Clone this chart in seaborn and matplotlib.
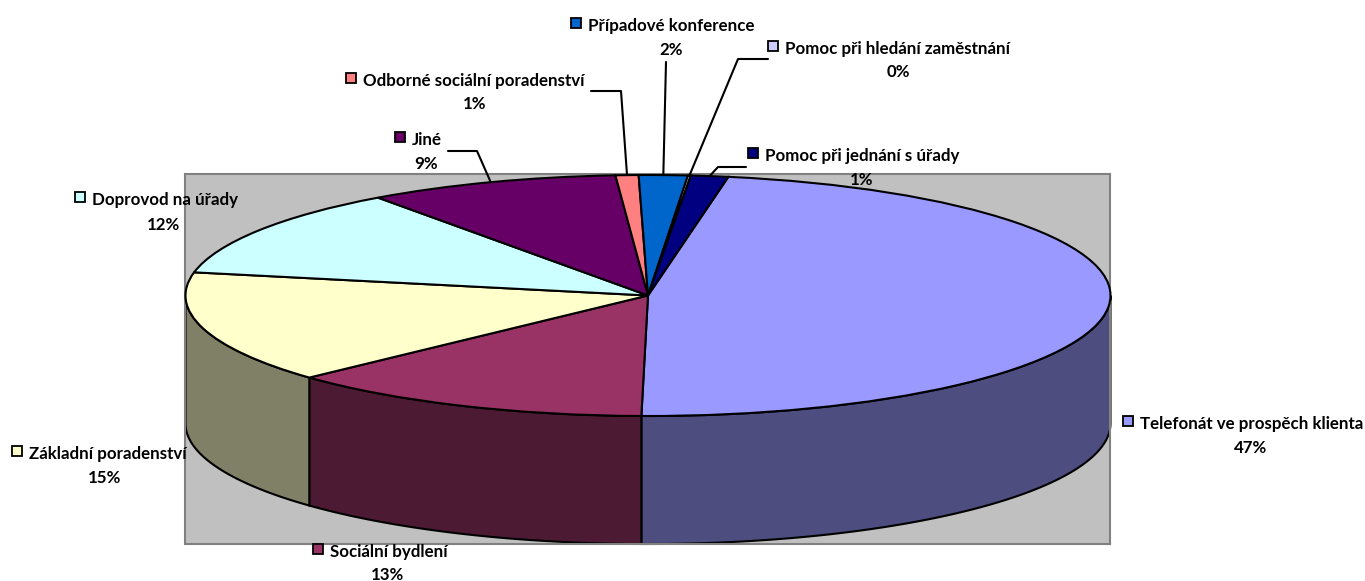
import numpy as np
import matplotlib.pyplot as plt
import seaborn as sb
from matplotlib.colors import to_rgb
from matplotlib.patches import Rectangle

# data, clockwise from the top of the pie
labels = ["Telefonát ve prospěch klienta", "Sociální bydlení", "Základní poradenství",
          "Doprovod na úřady", "Jiné", "Odborné sociální poradenství",
          "Případové konference", "Pomoc při hledání zaměstnání", "Pomoc při jednání s úřady"]
values = [47.45, 12.85, 15.0, 12.0, 8.8, 0.8, 1.7, 0.1, 1.3]
colors = ["#9999FF", "#993366", "#FFFFCC", "#CCFFFF", "#660066",
          "#FF8080", "#0066CC", "#CCCCFF", "#000080"]

W, H = 1365, 581
# plot box and pie shape, in pixels
box_l, box_r, box_t, box_b = 185.5, 1110, 174, 543.5
cx, cy, rx, ry, depth = 648, 295.5, 462.5, 120.5, 128

# label layout in pixels: key left, first line y, percent centre x, percent y
layout = {
    "Telefonát ve prospěch klienta": (1123, 424, 1251, 448),
    "Sociální bydlení": (313, 552, 387, 575),
    "Základní poradenství": (12, 454, 105, 478),
    "Doprovod na úřady": (75, 200, 163, 225),
    "Jiné": (395, 140, 426, 164),
    "Odborné sociální poradenství": (346, 81, 475, 104),
    "Případové konference": (571, 26, 671, 50),
    "Pomoc při hledání zaměstnání": (768, 49, 898, 72),
    "Pomoc při jednání s úřady": (748, 156, 862, 180),
}
# leader elbows, the last point comes from the middle of the slice
leaders = {
    "Jiné": [(448, 151), (477, 151)],
    "Odborné sociální poradenství": [(591, 91), (621, 91)],
    "Případové konference": [(666, 62)],
    "Pomoc při hledání zaměstnání": [(768, 59), (738, 59)],
    "Pomoc při jednání s úřady": [(746, 167), (718, 167)],
}

sb.set_theme(style="white")
plt.rcParams['font.family'] = ['Lato', 'DejaVu Sans']

fig = plt.figure(figsize=(W / 100, H / 100), dpi=100, facecolor="white")
ax = fig.add_axes([box_l / W, 1 - box_b / H, (box_r - box_l) / W, (box_b - box_t) / H])

wedges, _ = ax.pie(values, colors=sb.color_palette(colors), startangle=80, counterclock=False,
                   radius=1, wedgeprops=dict(edgecolor="black", linewidth=1.5, clip_on=False, zorder=3))
ax.set_aspect("auto")
ax.set_xlim((box_l - cx) / rx, (box_r - cx) / rx)
ax.set_ylim((cy - box_b) / ry, (cy - box_t) / ry)
ax.set_frame_on(True)
ax.set_facecolor("#C0C0C0")
for s in ax.spines.values():
    s.set_color("#808080")
    s.set_linewidth(1.5)

# side wall, only the front half of the pie shows
drop = depth / ry
for w, c in zip(wedges, colors):
    for shift in (0, 360):
        a = max(w.theta1 + shift, 180)
        b = min(w.theta2 + shift, 360)
        if a >= b:
            continue
        t = np.radians(np.linspace(a, b, 120))
        xs = np.concatenate([np.cos(t), np.cos(t[::-1])])
        ys = np.concatenate([np.sin(t), np.sin(t[::-1]) - drop])
        ax.fill(xs, ys, facecolor=np.array(to_rgb(c)) * 0.5, edgecolor="black",
                linewidth=1.5, clip_on=False, zorder=2)

# overlay in pixels for labels and leaders
over = fig.add_axes([0, 0, 1, 1])
over.set_xlim(0, W)
over.set_ylim(H, 0)
over.axis("off")
over.patch.set_alpha(0)

for name, v, c, w in zip(labels, values, colors, wedges):
    key_x, y1, pct_x, y2 = layout[name]
    over.add_patch(Rectangle((key_x, y1 - 8), 10, 10, facecolor=c, edgecolor="black", linewidth=1.3))
    over.text(key_x + 17, y1, name, fontsize=12.2, fontweight="bold", color="black", ha="left", va="center")
    over.text(pct_x, y2, "%d%%" % round(v), fontsize=12.2, fontweight="bold", color="black", ha="center", va="center")
    if name in leaders:
        mid = np.radians((w.theta1 + w.theta2) / 2)
        pts = leaders[name] + [(cx + rx * np.cos(mid), cy - ry * np.sin(mid))]
        over.plot([p[0] for p in pts], [p[1] for p in pts], color="black", linewidth=1.5)

fig.savefig("out.png", dpi=100)
